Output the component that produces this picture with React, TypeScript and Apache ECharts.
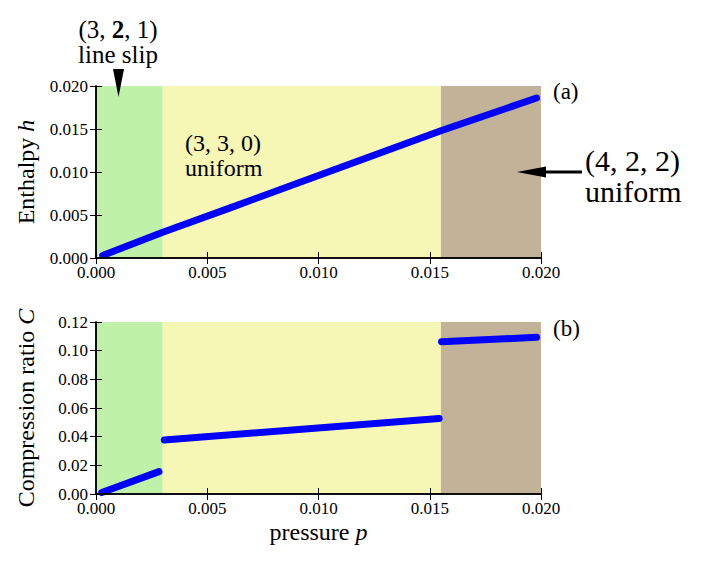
import React, { useEffect, useRef } from "react";
import * as echarts from "echarts";

// ---- data ----
const phaseBounds = [0, 0.003, 0.0155, 0.02];

const enthalpyP = [0.0003, 0.003, 0.006, 0.01, 0.0155, 0.0198];
const enthalpyH = [0.0003, 0.003, 0.0058, 0.0096, 0.0148, 0.0186];

const ratioP1 = [0.00026, 0.00283];
const ratioC1 = [0.001, 0.0156];
const ratioP2 = [0.00307, 0.01542];
const ratioC2 = [0.0377, 0.0526];
const ratioP3 = [0.01553, 0.0198];
const ratioC3 = [0.1063, 0.1093];

// ---- styles ----
const FONT = "'Liberation Serif', 'Times New Roman', serif";
const phaseColors = ["#c0f1a9", "#f6f6b5", "#c2b297"];
const BLUE = "#0000ff";

const zip = (a: number[], b: number[]) => a.map((v, i) => [v, b[i]]);

export default function App() {
  const ref = useRef<HTMLDivElement>(null);
  useEffect(() => {
    if (!ref.current) return;
    const chart = echarts.init(ref.current, undefined, { renderer: "svg" });

    const phaseAreas = phaseColors.map((c, i) => [
      { xAxis: phaseBounds[i], itemStyle: { color: c, opacity: 1 } },
      { xAxis: phaseBounds[i + 1] },
    ]);

    const tickStyle = { show: true, inside: true, length: 6, lineStyle: { color: "#000", width: 1 } };
    const lineStyle = { show: true, lineStyle: { color: "#000", width: 1.5 } };
    const labelBase = { fontFamily: FONT, fontSize: 17, color: "#000" };

    const xMain = (grid: number, name?: string) => ({
      type: "value",
      gridIndex: grid,
      position: "bottom",
      min: 0,
      max: 0.02,
      interval: 0.005,
      z: 10,
      splitLine: { show: false },
      axisLine: lineStyle,
      axisTick: tickStyle,
      axisLabel: { ...labelBase, margin: 6, formatter: (v: number) => v.toFixed(3) },
      name,
      nameLocation: "middle",
      nameGap: 26,
      nameTextStyle: {
        fontFamily: FONT,
        fontSize: 24,
        color: "#000",
        rich: { i: { fontFamily: FONT, fontSize: 24, fontStyle: "italic", color: "#000" } },
      },
    });
    const xMirror = (grid: number) => ({
      type: "value",
      gridIndex: grid,
      position: "top",
      min: 0,
      max: 0.02,
      interval: 0.005,
      z: 10,
      splitLine: { show: false },
      axisLine: lineStyle,
      axisTick: tickStyle,
      axisLabel: { show: false },
    });
    const yMain = (grid: number, max: number, interval: number, digits: number, name: string) => ({
      type: "value",
      gridIndex: grid,
      position: "left",
      min: 0,
      max,
      interval,
      z: 10,
      splitLine: { show: false },
      axisLine: lineStyle,
      axisTick: tickStyle,
      axisLabel: { ...labelBase, margin: 8, formatter: (v: number) => v.toFixed(digits) },
      name,
      nameLocation: "middle",
      nameGap: 58,
      nameTextStyle: {
        fontFamily: FONT,
        fontSize: 24,
        color: "#000",
        rich: { i: { fontFamily: FONT, fontSize: 24, fontStyle: "italic", color: "#000" } },
      },
    });
    const yMirror = (grid: number, max: number, interval: number) => ({
      type: "value",
      gridIndex: grid,
      position: "right",
      min: 0,
      max,
      interval,
      z: 10,
      splitLine: { show: false },
      axisLine: lineStyle,
      axisTick: tickStyle,
      axisLabel: { show: false },
    });

    const seg = (xi: number, yi: number, data: number[][], withArea: boolean) => ({
      type: "line",
      xAxisIndex: xi,
      yAxisIndex: yi,
      data,
      symbol: "none",
      lineStyle: { color: BLUE, width: 7, cap: "round", join: "round" },
      z: 5,
      markArea: withArea ? { silent: true, z: 1, data: phaseAreas } : undefined,
    });

    const block = (x: number, y: number, text: string, size: number, lh: number, align = "left", rich?: any) => ({
      type: "text",
      x,
      y,
      z: 20,
      style: {
        text,
        fontFamily: FONT,
        fontSize: size,
        lineHeight: lh,
        fill: "#000",
        align,
        verticalAlign: "top",
        rich,
      },
    });

    chart.setOption({
      animation: false,
      backgroundColor: "#fff",
      grid: [
        { left: 96, top: 86, width: 445, height: 172 },
        { left: 96, top: 322, width: 445, height: 172 },
      ],
      xAxis: [xMain(0), xMain(1, "pressure {i|p}"), xMirror(0), xMirror(1)],
      yAxis: [
        yMain(0, 0.02, 0.005, 3, "Enthalpy {i|h}"),
        yMain(1, 0.12, 0.02, 2, "Compression ratio {i|C}"),
        yMirror(0, 0.02, 0.005),
        yMirror(1, 0.12, 0.02),
      ],
      series: [
        seg(0, 0, zip(enthalpyP, enthalpyH), true),
        seg(1, 1, zip(ratioP1, ratioC1), true),
        seg(1, 1, zip(ratioP2, ratioC2), false),
        seg(1, 1, zip(ratioP3, ratioC3), false),
      ],
      graphic: [
        block(118, 17, "{n|(3, }{b|2}{n|, 1)}\n{n|line slip}", 25, 25, "center", {
          n: { fontFamily: FONT, fontSize: 25, lineHeight: 25, fill: "#000" },
          b: { fontFamily: FONT, fontSize: 25, lineHeight: 25, fontWeight: "bold", fill: "#000" },
        }),
        { type: "polygon", z: 20, shape: { points: [[113, 69], [124, 69], [118.5, 97]] }, style: { fill: "#000" } },
        block(185, 130, "(3, 3, 0)\nuniform", 24, 25),
        block(553, 79, "(a)", 23, 24),
        block(553, 316, "(b)", 23, 24),
        block(585, 145, "(4, 2, 2)\nuniform", 30, 31),
        { type: "line", z: 20, shape: { x1: 544, y1: 172, x2: 582, y2: 172 }, style: { stroke: "#000", lineWidth: 3 } },
        { type: "polygon", z: 20, shape: { points: [[517, 172], [546, 166.5], [546, 177.5]] }, style: { fill: "#000" } },
      ],
    });
    return () => chart.dispose();
  }, []);
  return <div ref={ref} style={{ position: "absolute", left: 0, top: 0, width: 705, height: 566 }} />;
}
